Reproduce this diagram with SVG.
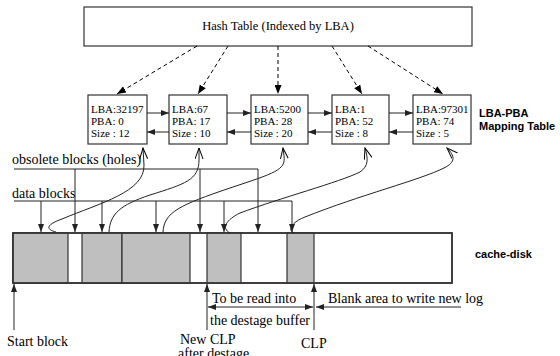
<svg xmlns="http://www.w3.org/2000/svg" width="560" height="356" viewBox="0 0 560 356">
<style>
.s{font-family:"Liberation Serif","Times New Roman",serif;fill:#000}
.t{font-family:"Liberation Serif","Times New Roman",serif;fill:#000;font-size:11px}
.b{font-family:"Liberation Sans",Arial,sans-serif;font-weight:bold;font-size:11px;fill:#000}
.box{fill:#fff;stroke:#333;stroke-width:1.2}
.ln{fill:none;stroke:#222;stroke-width:1}
.gr{fill:#bfbfbf;stroke:#333;stroke-width:1.2}
</style>
<defs>
<marker id="a" markerUnits="userSpaceOnUse" markerWidth="8" markerHeight="6" refX="8" refY="3" orient="auto-start-reverse"><path d="M0,0 L8,3 L0,6 z" fill="#222"/></marker>
<marker id="d" markerUnits="userSpaceOnUse" markerWidth="9" markerHeight="7" refX="9" refY="3.5" orient="auto"><path d="M0,0 L9,3.5 L0,7 z" fill="#000"/></marker>
<marker id="o" markerUnits="userSpaceOnUse" markerWidth="12" markerHeight="9" refX="11" refY="4.5" orient="auto"><path d="M0,0.5 L11,4.5 L0,8.5" fill="none" stroke="#000" stroke-width="1"/></marker>
</defs>

<g id="hash">
<rect class="box" x="84" y="7" width="388" height="39"/>
<text class="s" x="278" y="30" font-size="12.5" text-anchor="middle">Hash Table (Indexed by LBA)</text>
</g>

<g id="m1"><rect class="box" x="88" y="95" width="59" height="49"/>
<text class="t" x="91" y="113">LBA:32197</text><text class="t" x="91" y="125">PBA: 0</text><text class="t" x="91" y="137">Size : 12</text></g>
<g id="m2"><rect class="box" x="169" y="95" width="58" height="49"/>
<text class="t" x="172" y="113">LBA:67</text><text class="t" x="172" y="125">PBA: 17</text><text class="t" x="172" y="137">Size : 10</text></g>
<g id="m3"><rect class="box" x="251" y="95" width="57" height="49"/>
<text class="t" x="254" y="113">LBA:5200</text><text class="t" x="254" y="125">PBA: 28</text><text class="t" x="254" y="137">Size : 20</text></g>
<g id="m4"><rect class="box" x="332" y="95" width="57" height="49"/>
<text class="t" x="335" y="113">LBA:1</text><text class="t" x="335" y="125">PBA: 52</text><text class="t" x="335" y="137">Size : 8</text></g>
<g id="m5"><rect class="box" x="413" y="95" width="58" height="49"/>
<text class="t" x="416" y="113">LBA:97301</text><text class="t" x="416" y="125">PBA: 74</text><text class="t" x="416" y="137">Size : 5</text></g>

<g id="maplabel"><text class="b" x="479" y="117">LBA-PBA</text><text class="b" x="479" y="130">Mapping Table</text></g>

<g id="disk">
<rect x="13" y="233" width="439" height="50" fill="#fff" stroke="#333" stroke-width="1.5"/>
<rect class="gr" x="13" y="233" width="55" height="50"/>
<rect class="gr" x="82" y="233" width="40" height="50"/>
<rect class="gr" x="122" y="233" width="68" height="50"/>
<rect class="gr" x="207" y="233" width="34" height="50"/>
<rect class="gr" x="287" y="233" width="27" height="50"/>
<rect x="13" y="233" width="439" height="50" fill="none" stroke="#333" stroke-width="1.5"/>
<text class="b" x="475" y="258">cache-disk</text>
</g>

<g id="labels">
<text class="s" font-size="14" x="12" y="164">obsolete blocks (holes)</text>
<text class="s" font-size="14" x="12" y="198">data blocks</text>
<text class="s" font-size="14" x="212" y="303">To be read into</text>
<text class="s" font-size="14" x="210" y="325">the destage buffer</text>
<text class="s" font-size="14" x="328" y="303">Blank area to write new log</text>
<text class="s" font-size="14" x="7" y="346">Start block</text>
<text class="s" font-size="14" x="180" y="344">New CLP</text>
<text class="s" font-size="14" x="178" y="358">after destage</text>
<text class="s" font-size="14" x="301" y="348">CLP</text>
</g>

<g id="connectors">
<g stroke="#000" stroke-width="1" stroke-dasharray="4,3" fill="none" marker-end="url(#d)">
<line x1="197" y1="46" x2="117" y2="94"/>
<line x1="228" y1="46" x2="198" y2="94"/>
<line x1="278" y1="46" x2="278" y2="94"/>
<line x1="332" y1="46" x2="362" y2="94"/>
<line x1="368" y1="46" x2="443" y2="94"/>
</g>
<g class="ln" marker-end="url(#a)">
<line x1="147" y1="113" x2="169" y2="113"/><line x1="169" y1="132" x2="147" y2="132"/>
<line x1="227" y1="113" x2="251" y2="113"/><line x1="251" y1="132" x2="227" y2="132"/>
<line x1="308" y1="113" x2="332" y2="113"/><line x1="332" y1="132" x2="308" y2="132"/>
<line x1="389" y1="113" x2="413" y2="113"/><line x1="413" y1="132" x2="389" y2="132"/>
</g>
<path class="ln" d="M14,169 H258 M14,201 H292"/>
<g class="ln" marker-end="url(#a)">
<line x1="75" y1="169" x2="75" y2="232"/>
<line x1="200" y1="169" x2="200" y2="232"/>
<line x1="258" y1="169" x2="258" y2="232"/>
<line x1="41" y1="201" x2="41" y2="232"/>
<line x1="102" y1="201" x2="102" y2="232"/>
<line x1="156" y1="201" x2="156" y2="232"/>
<line x1="224" y1="201" x2="224" y2="232"/>
<line x1="292" y1="201" x2="292" y2="232"/>
</g>
<g class="ln" marker-end="url(#o)">
<path d="M56,232 C44,229 48,224 62,219 C100,203 145,192 144,165 L143,148"/>
<path d="M109,232 C110,214 120,205 150,195 C185,184 199,180 199,160 L199,148"/>
<path d="M163,232 C164,212 180,205 230,188 C275,173 286,170 284,156 L283,148"/>
<path d="M230,233 C221,228 226,220 240,213 C280,198 340,182 360,172 C369,166 368,158 365,148"/>
<path d="M294,233 C287,230 292,222 305,217 C360,195 420,180 444,168 C456,162 455,156 447,148"/>
</g>
<g class="ln" marker-end="url(#a)">
<line x1="14" y1="330" x2="14" y2="284"/>
<line x1="207" y1="330" x2="207" y2="284"/>
<line x1="314" y1="330" x2="314" y2="284"/>
</g>
<line class="ln" x1="208" y1="307" x2="313" y2="307" marker-start="url(#a)" marker-end="url(#a)"/>
<line class="ln" x1="461" y1="307" x2="316" y2="307" marker-end="url(#a)"/>
</g>
</svg>
